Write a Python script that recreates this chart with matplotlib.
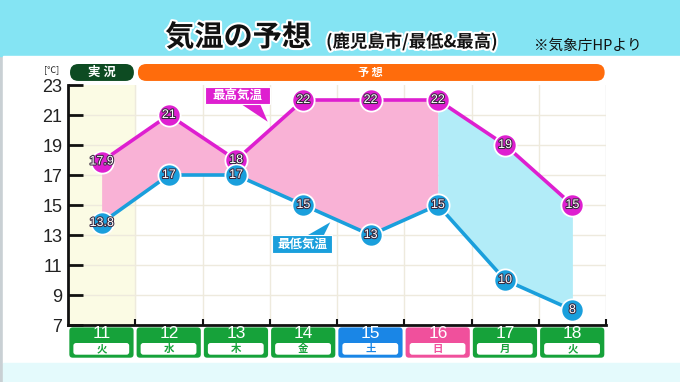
import matplotlib
matplotlib.use('Agg')
import matplotlib.pyplot as plt
import matplotlib.patheffects as pe
from matplotlib.patches import FancyBboxPatch, Polygon, Rectangle
import numpy as np

plt.rcParams['font.family'] = ['Noto Sans CJK JP', 'DejaVu Sans']

# データ
days = ['11', '12', '13', '14', '15', '16', '17', '18']
weekdays = ['火', '水', '木', '金', '土', '日', '月', '火']
high = [17.9, 21, 18, 22, 22, 22, 19, 15]   # 最高気温
low = [13.8, 17, 17, 15, 13, 15, 10, 8]     # 最低気温
yticks = [7, 9, 11, 13, 15, 17, 19, 21, 23]

C_HIGH = '#de1fd0'
C_LOW = '#1a9fdc'
C_GREEN = '#16a23a'
DAY_COLORS = {'土': '#1a86e6', '日': '#f0509c'}
NUM_FONT = ['Liberation Sans Narrow', 'Liberation Sans', 'DejaVu Sans']

fig = plt.figure(figsize=(6.8, 3.82), dpi=100)

# 背景 (ピクセル座標)
bg = fig.add_axes([0, 0, 1, 1])
bg.set_xlim(0, 680)
bg.set_ylim(382, 0)
bg.axis('off')
bg.add_patch(Rectangle((0, 0), 680, 382, color='#c9d0d4'))
bg.add_patch(Rectangle((0, 0), 680, 56, color='#84e4f3'))
bg.add_patch(Rectangle((3, 56), 677, 307, color='white'))
bg.add_patch(Rectangle((3, 363), 677, 19, color='#e4fafc'))

outline = [pe.withStroke(linewidth=3, foreground='white')]
fig.text(238 / 680, 1 - 37 / 382, '気温の予想', fontsize=21, fontweight='bold',
         ha='center', va='center', color='#111', path_effects=outline)
fig.text(412 / 680, 1 - 42 / 382, '(鹿児島市/最低&最高)', fontsize=12.5, fontweight='bold',
         ha='center', va='center', color='#111', path_effects=outline)
fig.text(588 / 680, 1 - 46 / 382, '※気象庁HPより', fontsize=10.5,
         ha='center', va='center', color='#111')

# メインのグラフ
ax = fig.add_axes([68 / 680, 1 - 325 / 382, 538 / 680, 240 / 382])
ax.set_facecolor('white')
x = np.arange(len(days))
ax.set_xlim(-0.5, len(days) - 0.5)
ax.set_ylim(7, 23)

ax.axvspan(-0.5, 0.5, color='#fbfbe4', zorder=0)
for xb in np.arange(0.5, len(days) - 0.5, 1):
    ax.axvline(xb, color='#eeeadd', lw=1, zorder=0.5)
ax.axvline(len(days) - 0.5, color='#dcdcdc', lw=1, zorder=0.5)
for yt in yticks[1:-1]:
    ax.axhline(yt, color='#eeeadd', lw=1, zorder=0.5)

ax.fill_between(x[:6], low[:6], high[:6], color='#f9b2d6', lw=0, zorder=1)
ax.fill_between(x[5:], low[5:], high[5:], color='#b2ecf8', lw=0, zorder=1)

ax.plot(x, high, color=C_HIGH, lw=2.6, zorder=2)
ax.plot(x, low, color=C_LOW, lw=2.6, zorder=2)
ax.plot(x, high, 'o', ms=16, mfc=C_HIGH, mec='white', mew=1.3, zorder=3)
ax.plot(x, low, 'o', ms=16, mfc=C_LOW, mec='white', mew=1.3, zorder=3)

num_fx = [pe.withStroke(linewidth=1.5, foreground='#3a2a40')]
for xi, v in zip(x, high):
    ax.text(xi, v, f'{v:g}', ha='center', va='center', color='white', fontsize=9,
            family=NUM_FONT, zorder=4, path_effects=num_fx)
for xi, v in zip(x, low):
    ax.text(xi, v, f'{v:g}', ha='center', va='center', color='white', fontsize=9,
            family=NUM_FONT, zorder=4, path_effects=num_fx)

# 軸
for s in ['top', 'right']:
    ax.spines[s].set_visible(False)
for s in ['left', 'bottom']:
    ax.spines[s].set_linewidth(2)
    ax.spines[s].set_color('#111')
ax.set_yticks(yticks)
ax.set_yticklabels([str(t) for t in yticks], family=NUM_FONT, fontsize=13, color='#222')
ax.tick_params(axis='y', direction='in', length=11, width=2, pad=4, color='#111')
ax.set_xticks(np.arange(0.5, len(days) - 0.4, 1))
ax.set_xticklabels([])
ax.tick_params(axis='x', direction='in', length=4, width=1.5, color='#111')

# x,y 方向の比 (角丸用)
asp = (538 / len(days)) / (240 / 16)

# 日付ボックス
for xi, d, w in zip(x, days, weekdays):
    c = DAY_COLORS.get(w, C_GREEN)
    ax.add_patch(FancyBboxPatch((xi - 0.48, 4.82), 0.955, 2.02,
                                boxstyle='round,pad=0,rounding_size=0.05',
                                mutation_aspect=asp, fc=c, ec='none', clip_on=False))
    ax.add_patch(FancyBboxPatch((xi - 0.42, 5.02), 0.83, 0.78,
                                boxstyle='round,pad=0,rounding_size=0.04',
                                mutation_aspect=asp, fc='white', ec='none', clip_on=False))
    ax.text(xi, 6.42, d, ha='center', va='center', color='white', fontsize=12.5,
            family=['Liberation Sans', 'DejaVu Sans'])
    ax.text(xi, 5.4, w, ha='center', va='center', color=c, fontsize=7.5, fontweight='bold')

# 実況 / 予想 の帯
ax.add_patch(FancyBboxPatch((-0.47, 23.27), 0.95, 1.13,
                            boxstyle='round,pad=0,rounding_size=0.125',
                            mutation_aspect=asp, fc='#0d4b22', ec='none', clip_on=False))
ax.text(0.0, 23.85, '実 況', ha='center', va='center', color='white', fontsize=9, fontweight='bold')
ax.add_patch(FancyBboxPatch((0.54, 23.27), 6.94, 1.13,
                            boxstyle='round,pad=0,rounding_size=0.125',
                            mutation_aspect=asp, fc='#ff6c0c', ec='none', clip_on=False))
ax.text(4.0, 23.85, '予 想', ha='center', va='center', color='white', fontsize=8, fontweight='bold')
ax.text(-0.74, 24.05, '[℃]', ha='center', va='center', color='#222', fontsize=6.5)

# 吹き出しラベル
ax.add_patch(Polygon([(2.05, 21.8), (2.35, 21.8), (2.47, 20.55)], closed=True,
                     fc=C_HIGH, ec='none', zorder=2.5))
ax.add_patch(Rectangle((1.53, 21.73), 0.97, 1.14, fc=C_HIGH, ec='white', lw=0.8, zorder=2.6))
ax.text(2.015, 22.3, '最高気温', ha='center', va='center', color='white', fontsize=9,
        fontweight='bold', zorder=2.7)

ax.add_patch(Polygon([(3.05, 12.95), (3.3, 12.95), (3.4, 13.85)], closed=True,
                     fc=C_LOW, ec='none', zorder=2.5))
ax.add_patch(Rectangle((2.53, 11.8), 0.9, 1.2, fc=C_LOW, ec='white', lw=0.8, zorder=2.6))
ax.text(2.98, 12.4, '最低気温', ha='center', va='center', color='white', fontsize=9,
        fontweight='bold', zorder=2.7)

fig.savefig('out.png', dpi=100)
